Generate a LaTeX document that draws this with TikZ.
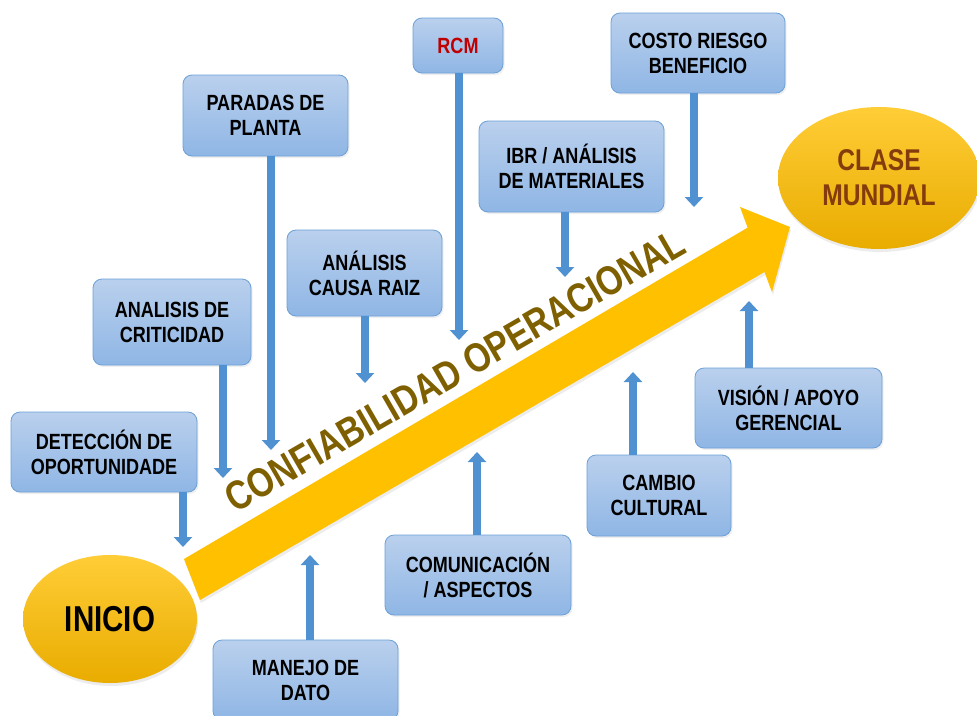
\documentclass[tikz,border=0pt]{standalone}
\usepackage{fontspec}
\newfontfamily\estrecha{Liberation Sans}[FakeStretch=0.82]
\usepackage{tikz}
\usetikzlibrary{arrows.meta,shadows,shapes.geometric}

\definecolor{cajaarriba}{RGB}{186,208,237}
\definecolor{cajaabajo}{RGB}{143,182,229}
\definecolor{cajaborde}{RGB}{108,160,215}
\definecolor{flechaazul}{RGB}{80,145,210}
\definecolor{oro}{RGB}{255,192,0}
\definecolor{oroclaro}{RGB}{255,205,55}
\definecolor{orooscuro}{RGB}{233,172,0}
\definecolor{marron}{RGB}{127,96,0}
\definecolor{ladrillo}{RGB}{132,60,12}
\definecolor{rojo}{RGB}{192,0,0}

\begin{document}
\begin{tikzpicture}[x=1pt,y=-1pt,
    caja/.style={draw=cajaborde, line width=0.8pt, rounded corners=9pt,
        top color=cajaarriba, bottom color=cajaabajo, align=center, inner sep=0pt,
        font=\estrecha\bfseries\fontsize{22}{25}\selectfont,
        drop shadow={opacity=0.12, shadow xshift=1.5pt, shadow yshift=-2pt}},
    meta/.style={ellipse, top color=oroclaro, bottom color=orooscuro, align=center,
        inner sep=0pt, drop shadow={opacity=0.15, shadow xshift=1pt, shadow yshift=-3pt}},
    flecha/.style={draw=flechaazul, line width=8pt, -{Triangle[width=18pt,length=10pt]}}]
\useasboundingbox (0,0) rectangle (977,715);
\fill[white] (0,0) rectangle (977,715);

% INICIO y CLASE MUNDIAL
\node[meta, minimum width=174pt, minimum height=128pt,
    font=\estrecha\bfseries\fontsize{36}{40}\selectfont] (inicio) at (110,619) {INICIO};
\node[meta, minimum width=202pt, minimum height=142pt, text=ladrillo,
    font=\estrecha\bfseries\fontsize{30}{35}\selectfont] (clase) at (879,178) {CLASE\\MUNDIAL};

% flecha grande
\fill[oro, drop shadow={opacity=0.15, shadow xshift=1pt, shadow yshift=-3pt}]
    (184,559) -- (747.7,227.6) -- (740,207) -- (790,227) -- (772,292)
    -- (764.5,272) -- (200,600) -- cycle;
\node[rotate=30, anchor=base, text=marron,
    font=\estrecha\bfseries\fontsize{41}{41}\selectfont] (titulo) at (462,383)
    {CONFIABILIDAD OPERACIONAL};

% cajas de arriba
\node[caja, minimum width=186pt, minimum height=80pt] (det) at (104,452) {DETECCIÓN DE\\OPORTUNIDADE};
\node[caja, minimum width=158pt, minimum height=86pt] (crit) at (172,322) {ANALISIS DE\\CRITICIDAD};
\node[caja, minimum width=165pt, minimum height=81pt] (par) at (265.5,115.5) {PARADAS DE\\PLANTA};
\node[caja, minimum width=155pt, minimum height=86pt] (causa) at (364.5,273) {ANÁLISIS\\CAUSA RAIZ};
\node[caja, minimum width=90pt, minimum height=55pt, text=rojo] (rcm) at (458,45.5) {RCM};
\node[caja, minimum width=185pt, minimum height=91pt] (ibr) at (571.5,166.5) {IBR / ANÁLISIS\\DE MATERIALES};
\node[caja, minimum width=174pt, minimum height=80pt] (costo) at (698,53) {COSTO RIESGO\\BENEFICIO};

% cajas de abajo
\node[caja, minimum width=185pt, minimum height=80pt] (dato) at (305.5,680) {MANEJO DE\\DATO};
\node[caja, minimum width=186pt, minimum height=80pt] (com) at (478,575) {COMUNICACIÓN\\/ ASPECTOS};
\node[caja, minimum width=144pt, minimum height=81pt] (cambio) at (659,495.5) {CAMBIO\\CULTURAL};
\node[caja, minimum width=187pt, minimum height=80pt] (vision) at (788.5,408) {VISIÓN / APOYO\\GERENCIAL};

% puntas de las flechas
\coordinate (det-fin) at (183,547);
\coordinate (crit-fin) at (223,478);
\coordinate (par-fin) at (271,450);
\coordinate (causa-fin) at (365,383);
\coordinate (rcm-fin) at (459,340);
\coordinate (ibr-fin) at (565,277);
\coordinate (costo-fin) at (694,207);
\coordinate (dato-fin) at (310,555);
\coordinate (com-fin) at (477,452);
\coordinate (cambio-fin) at (633,372);
\coordinate (vision-fin) at (749,301);

% flechas hacia abajo
\foreach \n in {det,crit,par,causa,rcm,ibr,costo} {
    \draw[flecha] (\n.south -| \n-fin) -- (\n-fin);
}
% flechas hacia arriba
\foreach \n in {dato,com,cambio,vision} {
    \draw[flecha] (\n.north -| \n-fin) -- (\n-fin);
}
\end{tikzpicture}
\end{document}
